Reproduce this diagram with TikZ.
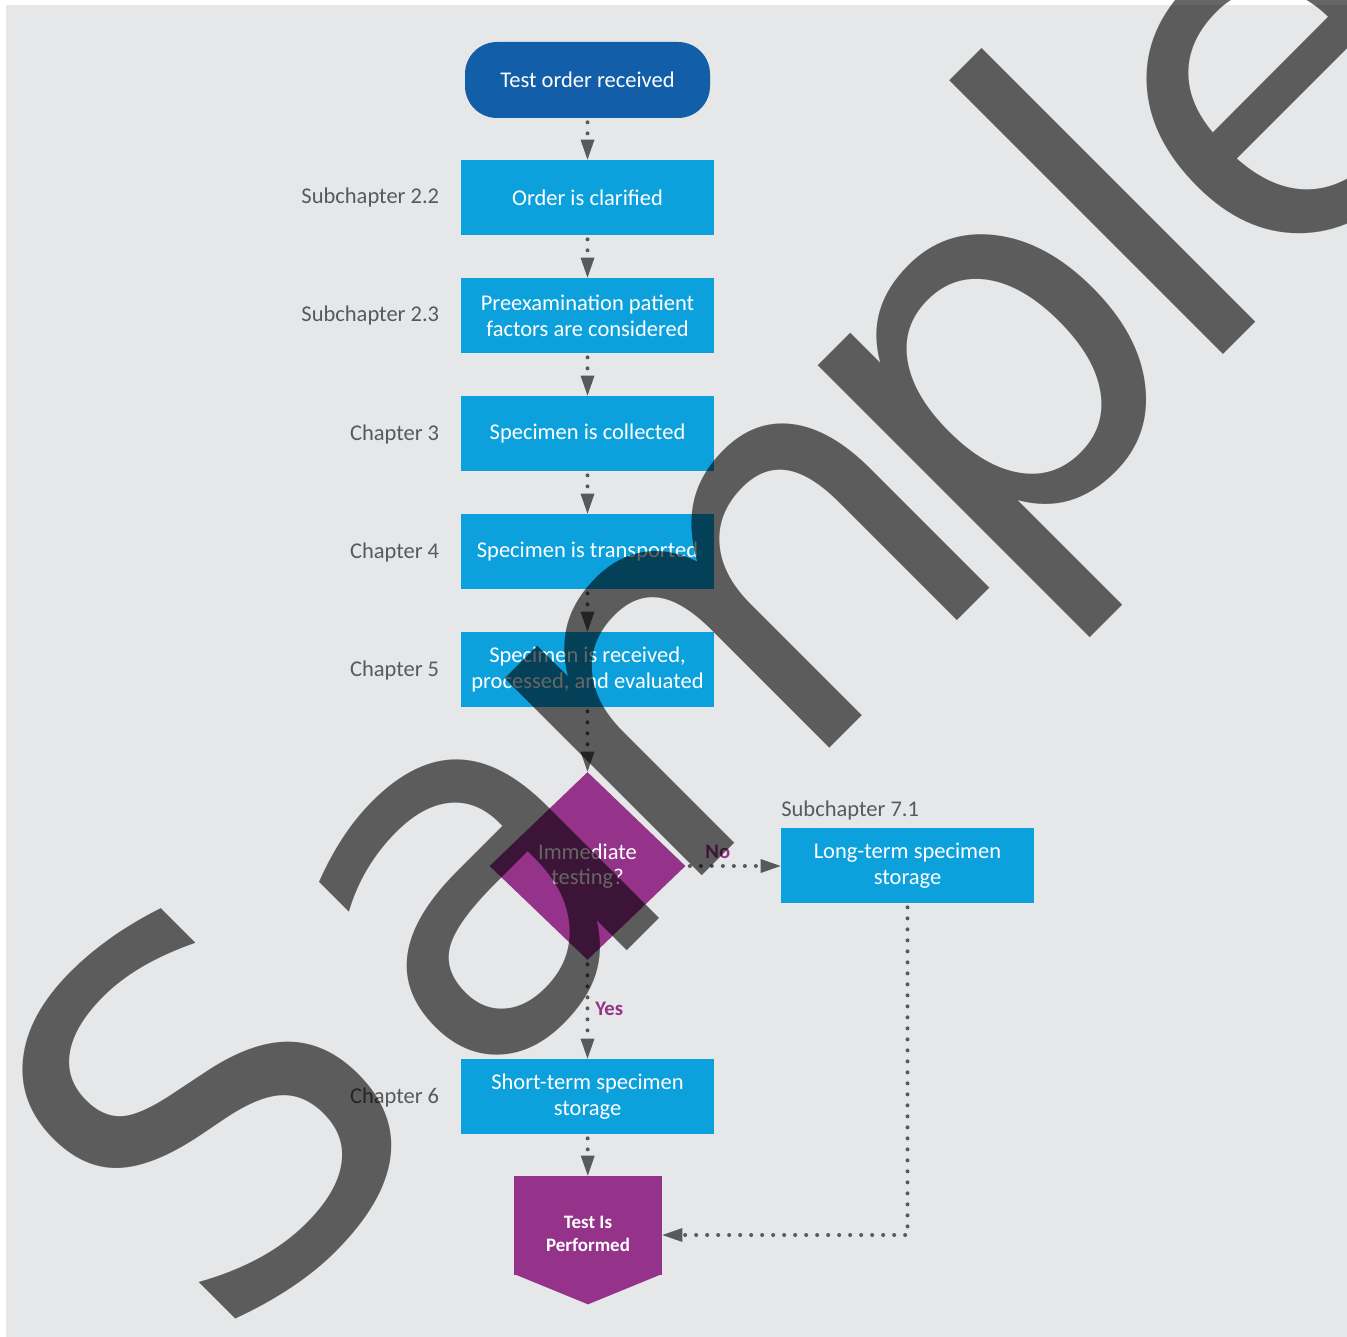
\documentclass[tikz,border=0pt]{standalone}
\usepackage{fontspec}
\setmainfont{Carlito}
\newfontfamily\wmfont{DejaVu Sans}
\usepackage{tikz}
\usetikzlibrary{positioning,arrows.meta,shapes.geometric}
\definecolor{pagegray}{RGB}{230,231,232}
\definecolor{termblue}{RGB}{18,94,169}
\definecolor{boxcyan}{RGB}{12,161,220}
\definecolor{decpurple}{RGB}{149,51,139}
\definecolor{lblgray}{RGB}{88,89,91}

\begin{document}
\begin{tikzpicture}[
  boxfont/.style={font=\fontsize{12.8}{14.6}\selectfont},
  termbox/.style={boxfont, rectangle, rounded corners=0.64cm, fill=termblue, text=white, minimum width=4.9cm, minimum height=1.52cm, inner sep=0pt},
  procbox/.style={boxfont, rectangle, fill=boxcyan, text=white, align=center, minimum width=5.06cm, minimum height=1.5cm, inner sep=0pt},
  decv/.style={boxfont, diamond, fill=decpurple, text=white, align=center, minimum width=3.92cm, minimum height=3.76cm, inner sep=0pt},
  testbox/.style={rectangle, fill=decpurple, minimum width=2.96cm, minimum height=1.98cm, inner sep=0pt},
  testtxt/.style={font=\fontsize{10.8}{13.1}\selectfont\bfseries, text=white, align=center, inner sep=0pt},
  chaplbl/.style={boxfont, text=lblgray, inner sep=0pt},
  anslbl/.style={font=\fontsize{11.8}{13}\selectfont\bfseries, text=decpurple, inner sep=0pt},
  flowedge/.style={draw=lblgray, line width=0.08cm, line cap=round, dash pattern=on 0pt off 0.22cm, shorten <=0.08cm, -{Triangle[width=0.28cm,length=0.4cm,line width=0pt]}},
  wmark/.style={font=\wmfont\fontsize{290}{290}\selectfont, text=black, text opacity=0.6, inner sep=0pt}
]

\useasboundingbox (0,0) rectangle (26.94,-26.74);
\clip (0,0) rectangle (26.94,-26.74);
\fill[white] (0,0) rectangle (26.94,-26.74);
\fill[pagegray] (0.12,-0.10) rectangle (26.94,-26.74);

\node[termbox] (start) at (11.75,-1.60) {Test order received};
\node[procbox] (order) at (11.75,-3.95) {Order is clarified};
\node[procbox] (preex) at (11.75,-6.31) {Preexamination patient\\factors are considered};
\node[procbox] (collect) at (11.75,-8.67) {Specimen is collected};
\node[procbox] (transp) at (11.75,-11.03) {Specimen is transported};
\node[procbox] (receiv) at (11.75,-13.39) {Specimen is received,\\processed, and evaluated};
\node[decv] (immed) at (11.75,-17.32) {Immediate\\testing?};
\node[procbox] (longst) at (18.15,-17.31) {Long-term specimen\\storage};
\node[procbox] (shortst) at (11.75,-21.93) {Short-term specimen\\storage};
\node[testbox] (testperf) at (11.76,-24.51) {};
\fill[decpurple] ([yshift=0.03cm]testperf.south west) -- ([yshift=0.03cm]testperf.south east) -- ([yshift=-0.58cm]testperf.south) -- cycle;
\node[testtxt] (testlbl) at ([yshift=-0.16cm]testperf.center) {Test Is\\Performed};

\node[chaplbl, anchor=base east] (lbl22) at (8.79,-4.08) {Subchapter 2.2};
\node[chaplbl, anchor=base east] (lbl23) at (8.79,-6.44) {Subchapter 2.3};
\node[chaplbl, anchor=base east] (lbl3) at (8.79,-8.80) {Chapter 3};
\node[chaplbl, anchor=base east] (lbl4) at (8.79,-11.16) {Chapter 4};
\node[chaplbl, anchor=base east] (lbl5) at (8.79,-13.52) {Chapter 5};
\node[chaplbl, anchor=base east] (lbl6) at (8.79,-22.06) {Chapter 6};
\node[chaplbl, anchor=base west] (lbl71) at (15.62,-16.32) {Subchapter 7.1};
\node[anslbl, anchor=base west] (yes) at (11.90,-20.30) {Yes};
\node[anslbl, anchor=base west] (no) at (14.10,-17.16) {No};

\draw[flowedge] (start) -- (order);
\draw[flowedge] (order) -- (preex);
\draw[flowedge] (preex) -- (collect);
\draw[flowedge] (collect) -- (transp);
\draw[flowedge] (transp) -- (receiv);
\draw[flowedge] (receiv) -- (immed);
\draw[flowedge] (immed.east) -- (immed.east -| longst.west);
\draw[flowedge] (immed) -- (shortst);
\draw[flowedge] (shortst) -- (testperf);
\draw[flowedge] (longst.south) |- ([yshift=-0.19cm]testperf.east);

\node[wmark, rotate=45, anchor=base west] (wm) at (4.44,-27.12)
  {S\kern0.58cm a\kern-0.67cm m\kern-1.06cm p\kern-0.62cm l\kern-0.44cm e};

\end{tikzpicture}
\end{document}
